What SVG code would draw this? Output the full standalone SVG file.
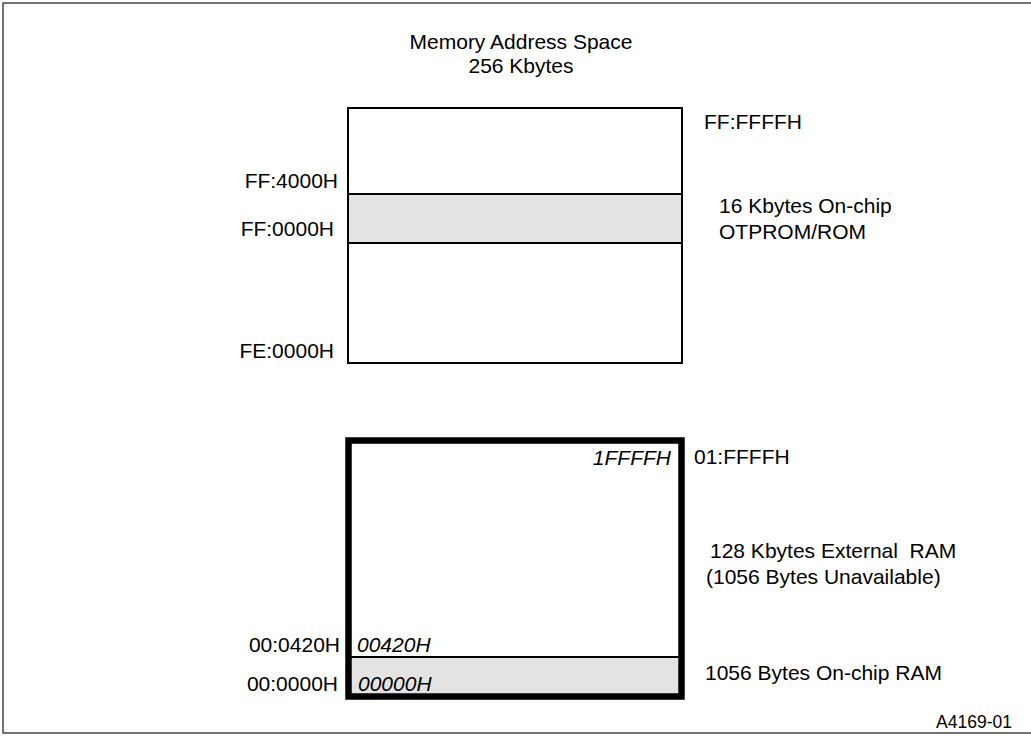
<svg xmlns="http://www.w3.org/2000/svg" width="1031" height="744" viewBox="0 0 1031 744">
<style>
text{font-family:"Liberation Sans",Arial,sans-serif;font-size:21px;fill:#000}
.it{font-style:italic}
.r{text-anchor:end}
.c{text-anchor:middle}
.box{fill:#fff;stroke:#000;stroke-width:2}
.band{fill:#e3e3e3;stroke:#000;stroke-width:2}
</style>
<rect x="3" y="3" width="1040" height="730" fill="#fff" stroke="#444" stroke-width="1.5"/>
<g id="title">
<text class="c" x="521" y="49">Memory Address Space</text>
<text class="c" x="521" y="73">256 Kbytes</text>
</g>
<g id="upper-map">
<rect class="box" x="348" y="108" width="334" height="255"/>
<rect class="band" x="348" y="194" width="334" height="49"/>
<text class="r" x="338" y="188">FF:4000H</text>
<text class="r" x="334" y="236">FF:0000H</text>
<text class="r" x="334" y="358">FE:0000H</text>
<text x="704" y="129">FF:FFFFH</text>
<text x="719" y="213">16 Kbytes On-chip</text>
<text x="719" y="239">OTPROM/ROM</text>
</g>
<g id="lower-map">
<rect x="348.5" y="440.5" width="333" height="256" fill="#fff"/>
<rect x="348.5" y="657" width="333" height="39.5" fill="#e3e3e3"/>
<line x1="348.5" y1="657" x2="681.5" y2="657" stroke="#000" stroke-width="2"/>
<rect x="348.5" y="440.5" width="333" height="256" fill="none" stroke="#000" stroke-width="6.5"/>
<text class="it r" x="671" y="465">1FFFFH</text>
<text class="it" x="357" y="652">00420H</text>
<text class="it" x="358" y="691">00000H</text>
<text class="r" x="340" y="652">00:0420H</text>
<text class="r" x="338" y="691">00:0000H</text>
<text x="694" y="464">01:FFFFH</text>
<text x="710" y="558" xml:space="preserve">128 Kbytes External  RAM</text>
<text x="706" y="584">(1056 Bytes Unavailable)</text>
<text x="705" y="680">1056 Bytes On-chip RAM</text>
</g>
<g id="connectors"></g>
<text class="r" x="1012" y="728" style="font-size:17.5px">A4169-01</text>
</svg>
